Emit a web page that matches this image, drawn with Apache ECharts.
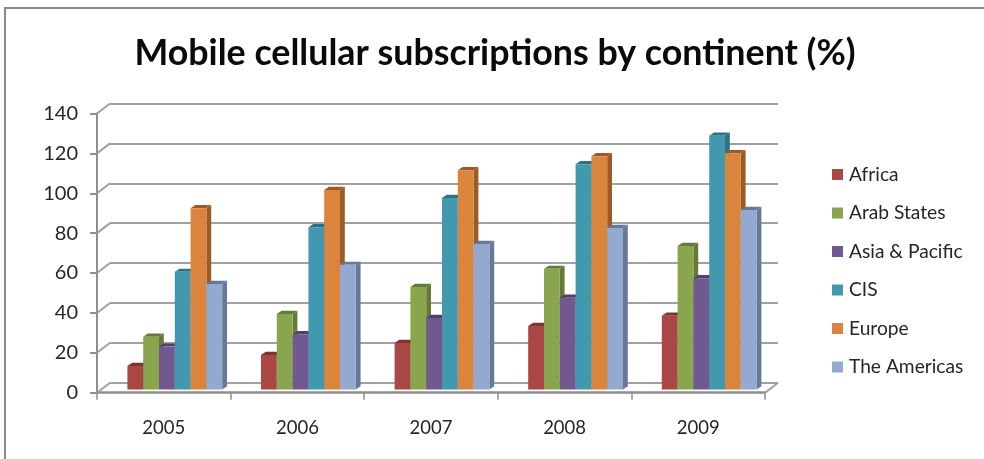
<!DOCTYPE html>
<html><head><meta charset="utf-8">
<style>html,body{margin:0;padding:0;background:#fff}#c{width:984px;height:459px}</style>
<script src="https://cdn.jsdelivr.net/npm/echarts@6/dist/echarts.min.js"></script>
</head><body><div id="c"></div>
<script>
const categories = ['2005','2006','2007','2008','2009'];
const africa   = [11.8, 17.3, 23.3, 31.9, 37];
const arab     = [26.5, 37.9, 51.4, 60.5, 72];
const asia     = [21.5, 27.7, 35.9, 46, 55.8];
const cis      = [59, 81.4, 96, 113, 127.3];
const europe   = [90.9, 100, 110, 117, 118.5];
const americas = [52.9, 62.5, 73, 81, 90];
const seriesNames = ['Africa','Arab States','Asia & Pacific','CIS','Europe','The Americas'];
const seriesValues = [africa, arab, asia, cis, europe, americas];
const faces = ['#AA4643','#89A54E','#71588F','#4198AF','#DB843D','#93A9CF'];
const sides = ['#7E3432','#657A39','#533F6A','#2F7184','#9C5A26','#66799A'];
const yTicks = [0,20,40,60,80,100,120,140];

const L=97,W=668,T=113.5,H=279.2;
const DX=13,DY=-10;           // wall offset
const BX=11,BY=-3.2;          // bar plane offset
const BW=15.8,SX=4.8,SY=-3.2; // bar width and depth
const axisGray='#8E8E8E', gridGray='#A0A0A0';
const font='Lato, Carlito, sans-serif', txt='#262626';

const chart=echarts.init(document.getElementById('c'),null,{renderer:'canvas'});
function barSeries(idx){
  return {
    name:seriesNames[idx],type:'custom',xAxisIndex:2,yAxisIndex:2,z:5,
    itemStyle:{color:faces[idx]},
    data:seriesValues[idx].map((v,i)=>[i,v]),
    encode:{x:0,y:1},
    renderItem(params,api){
      const p=api.coord([api.value(0),api.value(1)]);
      const b=api.coord([api.value(0),0]);
      const x=p[0]+(idx-3)*BW, y=p[1], r=x+BW, y0=b[1];
      return {type:'group',children:[
        {type:'polygon',shape:{points:[[r,y],[r+SX,y+SY],[r+SX,y0+SY],[r,y0]]},style:{fill:sides[idx]}},
        {type:'polygon',shape:{points:[[x,y],[x+SX,y+SY],[r+SX,y+SY],[r,y]]},style:{fill:sides[idx]}},
        {type:'rect',shape:{x:x,y:y,width:BW,height:y0-y},style:{fill:faces[idx]}}
      ]};
    }
  };
}
const connectors={
  type:'custom',xAxisIndex:0,yAxisIndex:0,z:1,silent:true,
  data:yTicks.map(v=>[0,v]),encode:{x:0,y:1},
  renderItem(params,api){
    const p=api.coord([0,api.value(1)]);
    const band=api.size([1,0])[0];
    const x0=p[0]-band/2;
    const g=[{type:'line',shape:{x1:x0,y1:p[1],x2:x0+DX,y2:p[1]+DY},style:{stroke:gridGray,lineWidth:2}}];
    if(api.value(1)===0){
      const e=api.coord([4,0])[0]+band/2;
      g.push({type:'line',shape:{x1:e,y1:p[1],x2:e+DX,y2:p[1]+DY},style:{stroke:gridGray,lineWidth:2}});
    }
    return {type:'group',children:g};
  }
};
chart.setOption({
  animation:false,backgroundColor:'#fff',
  title:{text:'Mobile cellular subscriptions by continent (%)',left:490,top:30,textAlign:'center',
    textStyle:{fontFamily:font,fontSize:35.8,fontWeight:'bold',color:'#0a0a0a'}},
  legend:{orient:'vertical',left:832,top:164.5,padding:0,itemWidth:11,itemHeight:11,itemGap:18.5,itemStyle:{borderWidth:0},icon:'rect',
    data:seriesNames,selectedMode:false,
    textStyle:{fontFamily:font,fontSize:19.2,lineHeight:20,color:txt,padding:[0,0,0,1]}},
  grid:[
    {left:L,top:T,width:W,height:H},
    {left:L+DX,top:T+DY,width:W,height:H},
    {left:L+BX,top:T+BY,width:W,height:H}
  ],
  xAxis:[
    {type:'category',gridIndex:0,data:categories,boundaryGap:true,
     axisLine:{lineStyle:{color:axisGray,width:2.5}},axisTick:{show:true,length:7,alignWithLabel:false,lineStyle:{color:axisGray,width:1.5}},
     axisLabel:{fontFamily:font,fontSize:18.5,color:txt,margin:26},splitLine:{show:false}},
    {type:'category',gridIndex:1,data:categories,show:false},
    {type:'category',gridIndex:2,data:categories,show:false}
  ],
  yAxis:[
    {type:'value',gridIndex:0,min:0,max:140,interval:20,
     axisLine:{show:true,lineStyle:{color:axisGray,width:2}},axisTick:{show:true,length:7,lineStyle:{color:axisGray,width:2}},
     axisLabel:{fontFamily:font,fontSize:20,color:txt,margin:19},splitLine:{show:false}},
    {type:'value',gridIndex:1,min:0,max:140,interval:20,
     axisLine:{show:false},axisTick:{show:false},axisLabel:{show:false},
     splitLine:{show:true,lineStyle:{color:gridGray,width:2}}},
    {type:'value',gridIndex:2,min:0,max:140,interval:20,show:false}
  ],
  graphic:[
    {type:'polyline',z:0,silent:true,shape:{points:[[5,459],[5,8],[984,8]]},style:{fill:null,stroke:'#8A8A8A',lineWidth:2}}
  ],
  series:[connectors,...seriesValues.map((_,i)=>barSeries(i))]
});
</script></body></html>
